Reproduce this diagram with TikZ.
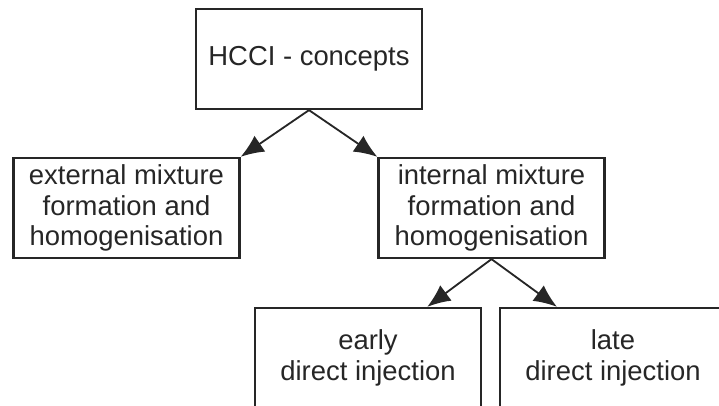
\documentclass[tikz,border=0pt]{standalone}
\usepackage{fontspec}
\setmainfont{Liberation Sans}
\usetikzlibrary{arrows.meta}

\tikzset{
  concept/.style={draw=black!85,line width=1.6pt,rectangle,align=center,
    minimum width=5.65cm,minimum height=2.5cm,inner sep=0pt,
    text=black!85,font=\fontsize{19.5}{21.5}\selectfont},
  link/.style={-{Latex[length=0.58cm,width=0.48cm]},line width=1.3pt,draw=black!85}
}

\begin{document}
\begin{tikzpicture}[x=0.025cm,y=-0.025cm]
  % page is 719 x 406 px, bottom boxes run off the page
  \clip (0,0) rectangle (719,406);
  \node[concept] (hcci) at (309,59) {HCCI - concepts};
  \node[concept] (ext) at (126.5,208) {external mixture\\formation and\\homogenisation};
  \node[concept] (int) at (491.5,208) {internal mixture\\formation and\\homogenisation};
  \node[concept] (early) at (368,358) {early\\direct injection};
  \node[concept] (late) at (613,358) {late\\direct injection};
  % arrows
  \draw[link] (hcci.south) -- (ext.north east);
  \draw[link] (hcci.south) -- (int.north west);
  \draw[link] (int.south) -- ([xshift=1.48cm]early.north);
  \draw[link] (int.south) -- ([xshift=-1.4cm]late.north);
\end{tikzpicture}
\end{document}
